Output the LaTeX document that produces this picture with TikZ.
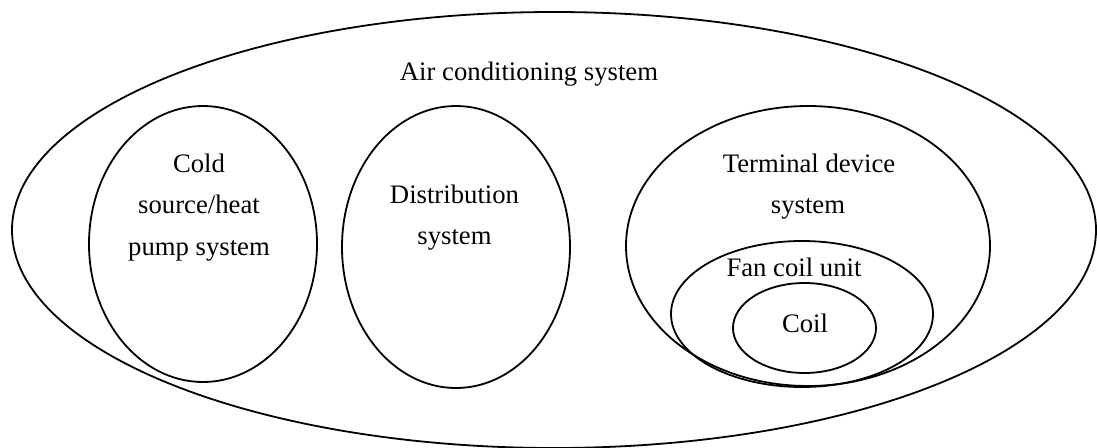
\documentclass[tikz,border=0pt]{standalone}
\usepackage{fontspec}
\setmainfont{Liberation Serif}
\usetikzlibrary{shapes.geometric}
\begin{document}
\begin{tikzpicture}[x=1pt,y=-1pt,
  ring/.style={ellipse, draw, line width=1.8pt, inner sep=0pt, outer sep=0pt},
  lbl/.style={anchor=base, inner sep=0pt, font=\fontsize{26.7}{32}\selectfont}]
\useasboundingbox (0,0) rectangle (1097,447);
\clip (0,0) rectangle (1097,447);
\node[ring, minimum width=1084pt, minimum height=436pt] (air) at (554,230) {};
\node[ring, minimum width=228pt, minimum height=276pt] (cold) at (203,244) {};
\node[ring, minimum width=228pt, minimum height=282pt] (dist) at (456,247) {};
\node[ring, minimum width=364pt, minimum height=280pt] (term) at (808,246) {};
\node[ring, minimum width=262pt, minimum height=146pt] (fan) at (802,314) {};
\node[ring, minimum width=143pt, minimum height=90pt] (coil) at (804.5,328) {};
\node[lbl] (airT) at (529,80) {Air conditioning system};
\node[lbl] (coldA) at (199,172) {Cold};
\node[lbl] (coldB) at (199,213) {source/heat};
\node[lbl] (coldC) at (199,255) {pump system};
\node[lbl] (distA) at (454.5,203) {Distribution};
\node[lbl] (distB) at (454.5,244) {system};
\node[lbl] (termA) at (809,172) {Terminal device};
\node[lbl] (termB) at (808,213) {system};
\node[lbl] (fanT) at (794,276) {Fan coil unit};
\node[lbl] (coilT) at (805,332) {Coil};
\end{tikzpicture}
\end{document}
